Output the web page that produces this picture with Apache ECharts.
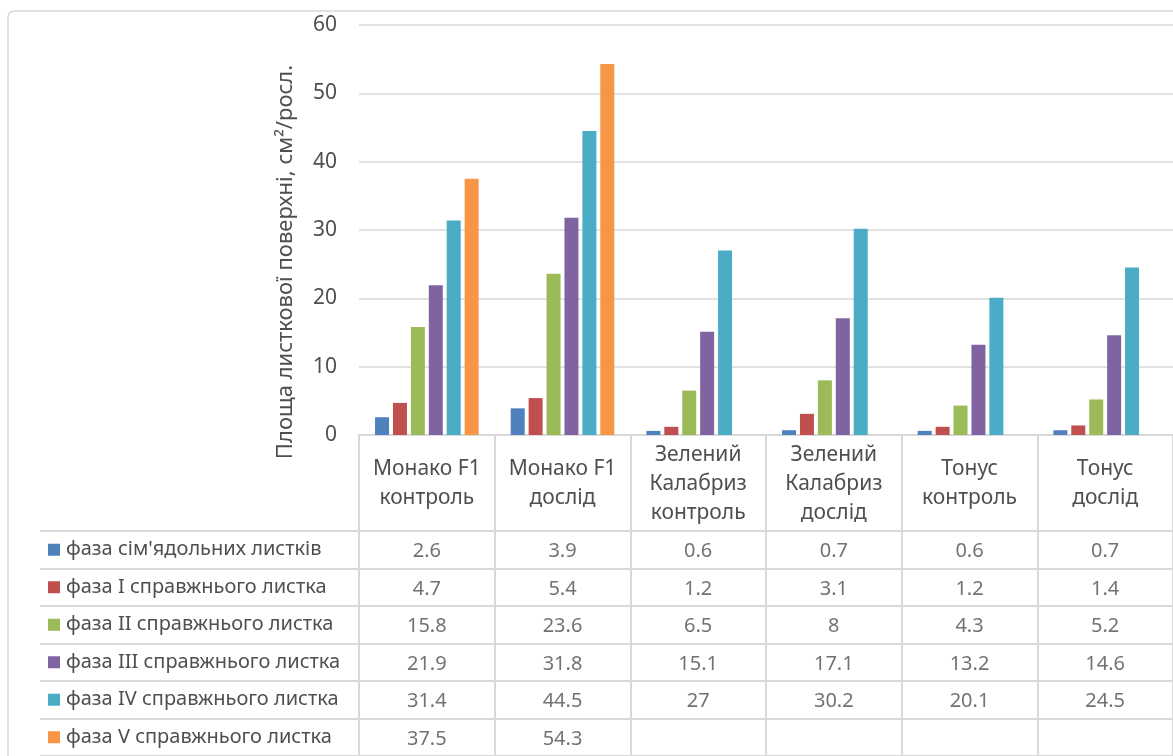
<!DOCTYPE html>
<html>
<head>
<meta charset="utf-8">
<style>
  html, body { margin: 0; padding: 0; background: #fff; }
  #chart { width: 1173px; height: 756px; }
</style>
<script src="https://cdn.jsdelivr.net/npm/echarts@6/dist/echarts.min.js"></script>
</head>
<body>
<div id="chart"></div>
<script>
const categories = [
  'Монако F1\nконтроль',
  'Монако F1\nдослід',
  'Зелений\nКалабриз\nконтроль',
  'Зелений\nКалабриз\nдослід',
  'Тонус\nконтроль',
  'Тонус\nдослід'
]
const phaseNames = [
  "фаза сім'ядольних листків",
  'фаза I справжнього листка',
  'фаза II справжнього листка',
  'фаза III справжнього листка',
  'фаза IV справжнього листка',
  'фаза V справжнього листка'
]
const phaseCotyledon = [2.6, 3.9, 0.6, 0.7, 0.6, 0.7]
const phaseI = [4.7, 5.4, 1.2, 3.1, 1.2, 1.4]
const phaseII = [15.8, 23.6, 6.5, 8, 4.3, 5.2]
const phaseIII = [21.9, 31.8, 15.1, 17.1, 13.2, 14.6]
const phaseIV = [31.4, 44.5, 27, 30.2, 20.1, 24.5]
const phaseV = [37.5, 54.3, null, null, null, null]
const colors = ['#4F81BD', '#C0504D', '#9BBB59', '#8064A2', '#4BACC6', '#F79646']

const phases = [phaseCotyledon, phaseI, phaseII, phaseIII, phaseIV, phaseV]
const textColor = '#4f4f4f'
const lineColor = '#D9D9D9'
const font = 'Noto Sans'

// colored key squares for the data table rows
const rich = { t: { fontSize: 20, color: textColor, fontFamily: font, padding: [0, 0, 0, 6] } }
colors.forEach((c, i) => {
  rich['k' + i] = { width: 12, height: 12, backgroundColor: c }
})

// table cells: [category, row, value]
const cells = []
phases.forEach((arr, row) => {
  arr.forEach((v, col) => {
    if (v !== null) cells.push([col, row, v])
  })
})

const barSeries = phases.map((arr, i) => ({
  name: phaseNames[i],
  type: 'bar',
  xAxisIndex: 0,
  yAxisIndex: 0,
  barWidth: 14,
  barGap: '28%',
  itemStyle: { color: colors[i] },
  data: arr
}))

const option = {
  animation: false,
  textStyle: { fontFamily: font },
  graphic: [
    {
      type: 'rect',
      shape: { x: 8, y: 11, width: 1300, height: 900, r: 6 },
      style: { fill: 'none', stroke: lineColor, lineWidth: 1.5 },
      silent: true
    }
  ],
  grid: [
    { left: 359, right: -6, top: 25, bottom: 321 },
    { left: 359, right: -6, top: 531, height: 231 }
  ],
  xAxis: [
    {
      gridIndex: 0,
      type: 'category',
      data: categories,
      axisLine: { show: true, lineStyle: { color: lineColor, width: 2 } },
      axisTick: { show: true, length: 330, lineStyle: { color: lineColor, width: 2 } },
      axisLabel: {
        interval: 0,
        margin: 49,
        verticalAlign: 'middle',
        fontSize: 21,
        lineHeight: 29,
        color: textColor
      }
    },
    {
      gridIndex: 1,
      type: 'category',
      position: 'top',
      data: categories,
      axisLine: { show: true, lineStyle: { color: lineColor, width: 2 } },
      axisTick: { show: false },
      axisLabel: { show: false }
    }
  ],
  yAxis: [
    {
      gridIndex: 0,
      type: 'value',
      min: 0,
      max: 60,
      interval: 10,
      name: 'Площа листкової поверхні, см²/росл.',
      nameLocation: 'middle',
      nameGap: 62,
      nameTextStyle: { fontSize: 22, color: textColor, padding: [0, 64, 0, 0] },
      axisLine: { show: false },
      axisTick: { show: false },
      axisLabel: { fontSize: 21, color: textColor, margin: 22 },
      splitLine: { lineStyle: { color: lineColor, width: 1.5 } }
    },
    {
      gridIndex: 1,
      type: 'category',
      inverse: true,
      data: phaseNames,
      axisLine: { show: true, lineStyle: { color: lineColor, width: 2 } },
      axisTick: { show: true, length: 319, lineStyle: { color: lineColor, width: 2 } },
      splitLine: { show: true, lineStyle: { color: lineColor, width: 2 } },
      axisLabel: {
        align: 'left',
        margin: 311,
        formatter: (val, idx) => '{k' + idx + '|}{t|' + val + '}',
        rich: rich
      }
    },
    {
      gridIndex: 1,
      type: 'category',
      inverse: true,
      data: phaseNames,
      offset: 319,
      axisLine: { show: true, lineStyle: { color: lineColor, width: 2 } },
      axisTick: { show: false },
      axisLabel: { show: false }
    }
  ],
  series: [
    ...barSeries,
    {
      type: 'scatter',
      xAxisIndex: 1,
      yAxisIndex: 1,
      silent: true,
      symbolSize: 1,
      itemStyle: { color: 'transparent' },
      label: {
        show: true,
        position: 'inside',
        offset: [0, 2],
        fontSize: 20,
        color: textColor,
        formatter: (p) => String(p.value[2])
      },
      data: cells
    }
  ]
}

const chart = echarts.init(document.getElementById('chart'))
chart.setOption(option)
</script>
</body>
</html>
